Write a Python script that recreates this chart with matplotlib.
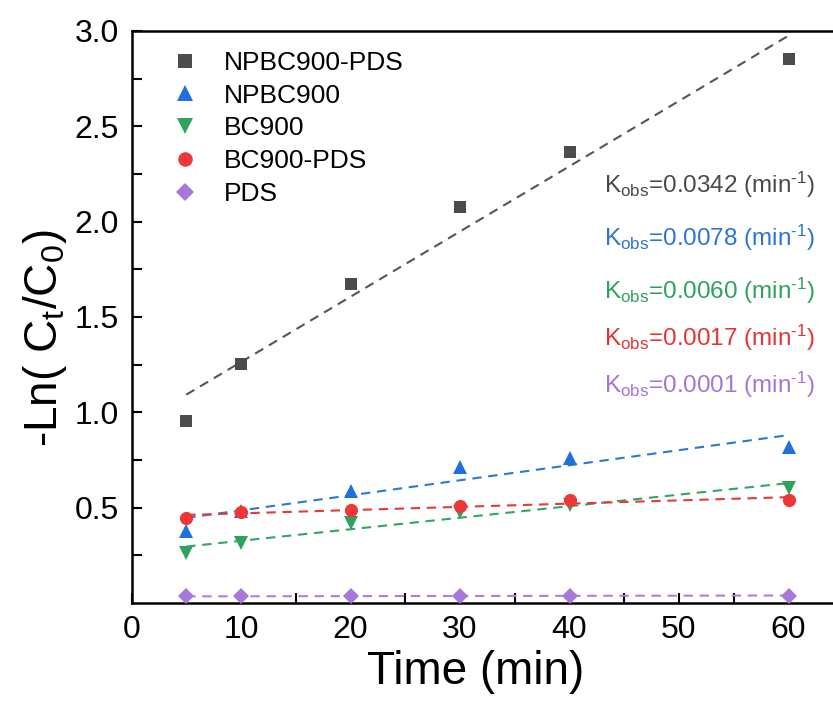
import numpy as np
import matplotlib
matplotlib.use("Agg")
import matplotlib.pyplot as plt

plt.rcParams['font.family'] = ['Liberation Sans', 'DejaVu Sans']
plt.rcParams['mathtext.fontset'] = 'custom'
plt.rcParams['mathtext.rm'] = 'Liberation Sans'
plt.rcParams['mathtext.it'] = 'Liberation Sans'
plt.rcParams['mathtext.default'] = 'regular'

# ---- data ----
time_min = [5, 10, 20, 30, 40, 60]
npbc900_pds = [0.956, 1.254, 1.672, 2.079, 2.363, 2.853]
npbc900 = [0.380, 0.484, 0.589, 0.712, 0.759, 0.820]
bc900 = [0.261, 0.316, 0.421, 0.479, 0.514, 0.602]
bc900_pds = [0.444, 0.479, 0.488, 0.509, 0.540, 0.540]
pds = [0.035, 0.035, 0.036, 0.037, 0.038, 0.039]

labels = ["NPBC900-PDS", "NPBC900", "BC900", "BC900-PDS", "PDS"]
k_labels = ["0.0342", "0.0078", "0.0060", "0.0017", "0.0001"]
x_ticks = [0, 10, 20, 30, 40, 50, 60]
y_ticks = [0.5, 1.0, 1.5, 2.0, 2.5, 3.0]

series = [npbc900_pds, npbc900, bc900, bc900_pds, pds]
markers = ['s', '^', 'v', 'o', 'D']
msizes = [9, 10.5, 10.5, 9.5, 8]
mcolors = ['#4b4b4b', '#1f6fdc', '#2ea35e', '#ee3838', '#a877dc']
lcolors = ['#555555', '#2a78dc', '#34a565', '#e43a3a', '#ad7fdd']
tcolors = ['#4a4a4a', '#2c74d6', '#2ea25e', '#e43434', '#a674d6']

fig = plt.figure(figsize=(8.33, 7.16), dpi=100)
ax = fig.add_axes([131.5 / 833, 113 / 716, 65 * 10.95 / 833, 572 / 716])

t = np.array(time_min, dtype=float)
for vals, mk, ms, mc, lc, lab in zip(series, markers, msizes, mcolors, lcolors, labels):
    ax.plot(t, vals, linestyle='none', marker=mk, markersize=ms, color=mc,
            markeredgewidth=0, label=lab, zorder=3)
    p = np.polyfit(t, vals, 1)
    tt = np.array([t.min(), t.max()])
    ax.plot(tt, np.polyval(p, tt), linestyle=(0, (4.5, 3.2)), color=lc, lw=1.5, zorder=2)

ax.set_xlim(0, 65)
ax.set_ylim(0, 3.0)
ax.set_xticks(x_ticks)
ax.set_yticks(y_ticks)
ax.set_xticks(np.arange(5, 65, 10), minor=True)
ax.set_yticks(np.arange(0.25, 3.0, 0.5), minor=True)
ax.tick_params(which='both', direction='in', width=1.5, length=7, labelsize=23)
ax.tick_params(axis='y', which='major', pad=9)
ax.tick_params(axis='x', which='major', pad=9)
for s in ax.spines.values():
    s.set_linewidth(1.8)

ax.set_xlabel('Time (min)', fontsize=33)
ax.set_ylabel('-Ln( C$_t$/C$_0$)', fontsize=33)
ax.xaxis.set_label_coords(0.484, -0.082)
ax.yaxis.set_label_coords(-0.088, 0.463)

leg = ax.legend(loc='upper left', bbox_to_anchor=(0.057, 0.965), frameon=False,
                fontsize=19, handlelength=1.0, handletextpad=0.95, labelspacing=0.33,
                borderpad=0, borderaxespad=0, markerscale=1.1)

ky = [185, 238, 291, 338, 385]
for k, c, y in zip(k_labels, tcolors, ky):
    fig.text(604 / 833, 1 - y / 716, r'K$_{obs}$=' + k + r' (min$^{\text{-}1}$)', color=c,
             fontsize=17.5, ha='left', va='center')

fig.savefig('out.png', dpi=100)
